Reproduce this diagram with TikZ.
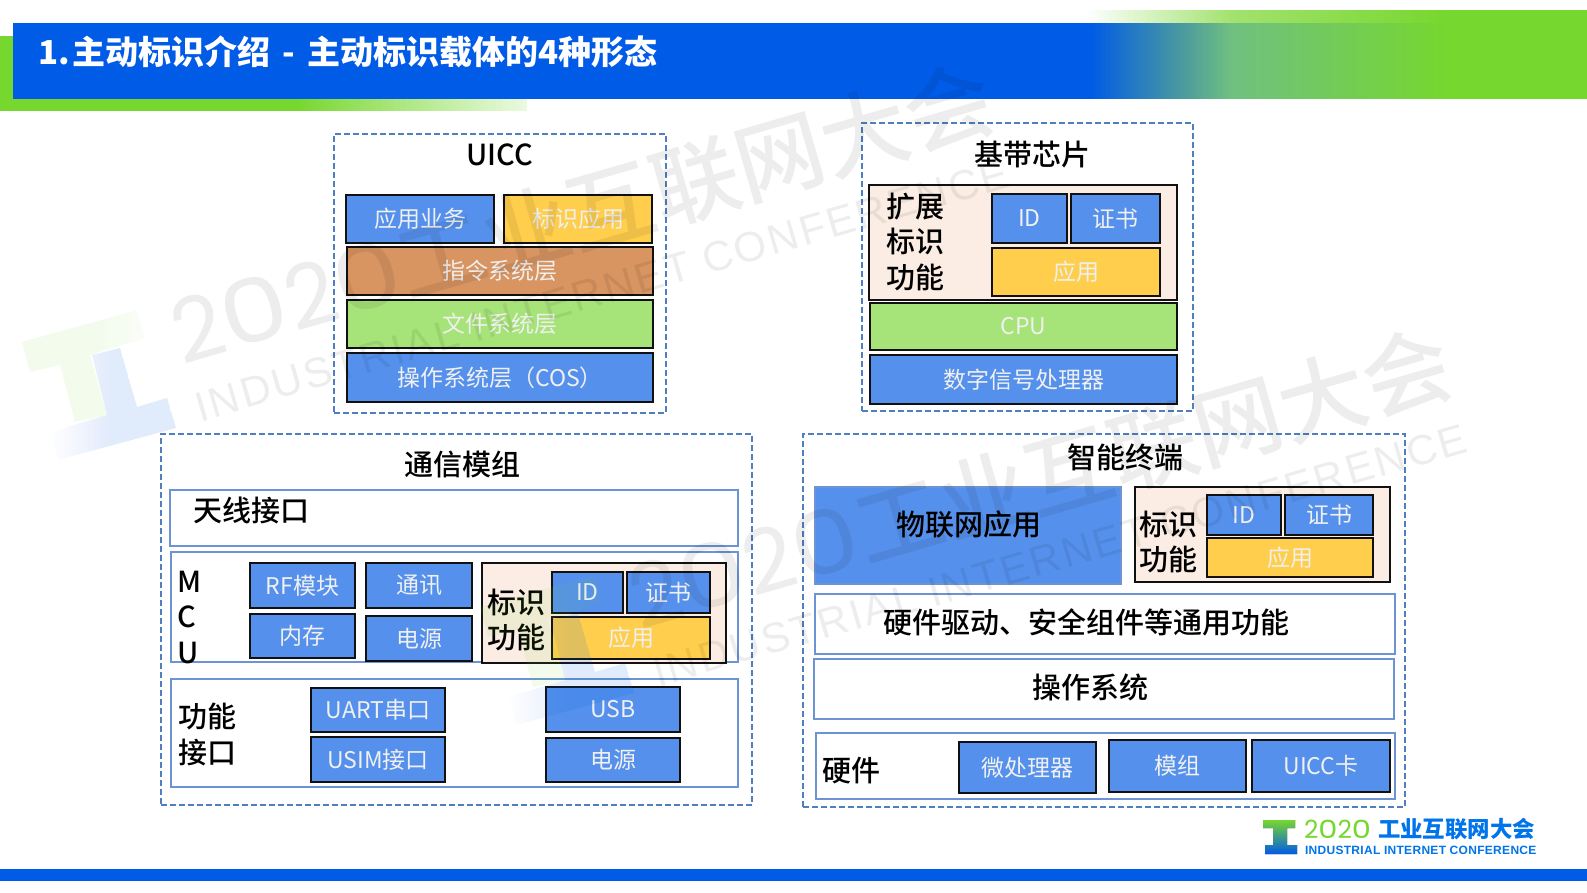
\documentclass[tikz,border=0pt]{standalone}
\usepackage{fontspec}
\setmainfont{Noto Sans CJK SC}
\newfontfamily\medfont{Noto Sans CJK SC Medium}
\newfontfamily\popfont{Poppins}
\newfontfamily\wmlat[LetterSpace=6]{Liberation Sans}
\newfontfamily\logolat[LetterSpace=2.5]{Liberation Sans}
\definecolor{hblue}{HTML}{005BE6}
\definecolor{hgreen}{HTML}{76D72E}
\colorlet{hpale}{hgreen!15}
\definecolor{hband}{HTML}{A2E26E}
\definecolor{hteal}{HTML}{4E9D9C}
\definecolor{hmint}{HTML}{70C080}
\definecolor{bblue}{HTML}{5591EC}
\definecolor{byellow}{HTML}{FFCE4C}
\definecolor{borange}{HTML}{D89461}
\definecolor{bgreen}{HTML}{A6E378}
\definecolor{bpeach}{HTML}{FBEDE3}
\definecolor{dashc}{HTML}{4F7FC0}
\definecolor{linec}{HTML}{6C93D3}
\definecolor{edge}{HTML}{111111}
\newcommand{\fs}[1]{\fontsize{#1}{#1}\selectfont}
\tikzset{
  boxbase/.style={inner sep=0pt,outer sep=0pt,align=center},
  fillbox/.style={boxbase,draw=edge,line width=2.6pt,text=white!94!black,font=\fs{23}},
  bluebox/.style={fillbox,fill=bblue},
  yellowbox/.style={fillbox,fill=byellow},
  orangebox/.style={fillbox,fill=borange},
  greenbox/.style={fillbox,fill=bgreen},
  peachbox/.style={boxbase,draw=edge,line width=2.6pt,fill=bpeach},
  plainblue/.style={boxbase,draw=linec,line width=1.6pt,fill=bblue},
  whitebox/.style={boxbase,draw=linec,line width=2pt,fill=white},
  dashbox/.style={boxbase,draw=dashc,line width=2pt,dash pattern=on 6pt off 3pt},
  lbl/.style={inner sep=0pt,outer sep=0pt,text=black},
  big/.style={lbl,font=\medfont\fontsize{29}{35.5}\selectfont,align=center},
  wmtext/.style={inner sep=0pt,outer sep=0pt,text=black,text opacity=.07},
}
\newcommand{\rbx}[6]{%
  \pgfmathsetmacro\bxCX{(#3+#5)/2}\pgfmathsetmacro\bxCY{(#4+#6)/2}%
  \pgfmathsetmacro\bxW{#5-#3}\pgfmathsetmacro\bxH{#6-#4}%
  \node[#1,minimum width=\bxW pt,minimum height=\bxH pt] (#2) at (\bxCX,\bxCY) {};%
}
\newcommand{\tbx}[7]{%
  \pgfmathsetmacro\bxCX{(#3+#5)/2}\pgfmathsetmacro\bxCY{(#4+#6)/2}%
  \pgfmathsetmacro\bxW{#5-#3}\pgfmathsetmacro\bxH{#6-#4}%
  \node[#1,minimum width=\bxW pt,minimum height=\bxH pt] (#2) at (\bxCX,\bxCY) {#7};%
}
% horizontal gradient as integer-aligned strips
\newcommand{\hgrad}[6]{%
  \pgfmathtruncatemacro\gN{(#2-#1)/3}%
  \foreach \gi in {1,...,\gN}{%
    \pgfmathsetmacro\gP{100*(\gi-.5)/\gN}%
    \pgfmathsetmacro\gX{#1+3*(\gi-1)}%
    \pgfmathsetmacro\gY{\gX+3.5}%
    \fill[#4!\gP!#3] (\gX,#5) rectangle (\gY,#6);%
  }%
}
\newcommand{\roundzero}{\scalebox{1.22}[1]{0}}
\newcommand{\wmark}[3]{%
  \begin{scope}[shift={(#2,#3)}]
    \begin{scope}
      \clip (22,342)--(137,310)--(145,338)--(90,355)--(107,415)--(75,422)--(60,365)--(30,372)--cycle;
      \foreach \sx in {21,24,...,147}{%
        \pgfmathsetmacro\sa{\sx<95 ? 0.085 : 0.085-0.05*(\sx-95)/50}%
        \fill[hgreen,fill opacity=\sa] (\sx,300) rectangle ({\sx+3},430);%
      }
    \end{scope}
    \begin{scope}
      \clip (92,355)--(120,348)--(137,407)--(167,398)--(176,428)--(58,460)--(50,432)--(107,415)--cycle;
      \foreach \sx in {48,51,...,177}{%
        \pgfmathsetmacro\sa{\sx>110 ? 0.12 : max(0,0.12*(\sx-50)/60)}%
        \fill[hblue,fill opacity=\sa] (\sx,340) rectangle ({\sx+3},465);%
      }
    \end{scope}
    \node[wmtext,rotate=16.2,anchor=base west,font=\fs{88}] (#1a) at (182,365) {{\popfont 2\roundzero 2\roundzero}{\medfont 工业互联网大会}};
    \node[wmtext,rotate=16.2,anchor=base west,font=\fs{42}] (#1b) at (200,422) {\wmlat INDUSTRIAL INTERNET CONFERENCE};
  \end{scope}%
}
\begin{document}
\begin{tikzpicture}[x=1pt,y=-1pt]
\useasboundingbox (0,0) rectangle (1587,892);
\fill[white] (0,0) rectangle (1587,892);
% header
\fill[hgreen] (0,36) rectangle (296,111);
\hgrad{295}{527}{hgreen}{hpale}{36}{111}
\hgrad{1086}{1233}{white}{hband}{10}{24}
\hgrad{1232}{1450}{hband}{hgreen}{10}{24}
\fill[hgreen] (1448,10) rectangle (1587,24);
\fill[hblue] (13,23) rectangle (1091,99);
\hgrad{1090}{1188}{hblue}{hteal}{23}{99}
\hgrad{1187}{1233}{hteal}{hmint}{23}{99}
\hgrad{1232}{1450}{hmint}{hgreen}{23}{99}
\fill[hgreen] (1448,23) rectangle (1587,99);
\fill[hblue] (0,869) rectangle (1587,881);
\node[lbl,text=white,anchor=west,font=\fs{33}\bfseries] (title) at (38,52) {1.\hspace{3pt}主动标识介绍\hspace{12pt}-\hspace{12pt}主动标识载体的4种形态};
% UICC
\rbx{dashbox}{uicc}{334}{134}{666}{413}
\node[big] (uiccT) at (500,155) {UICC};
\tbx{bluebox}{ua}{346}{195}{494}{243}{应用业务}
\tbx{yellowbox}{ub}{504}{195}{652}{243}{标识应用}
\tbx{orangebox}{uc}{347}{247}{653}{295}{指令系统层}
\tbx{greenbox}{ud}{347}{300}{653}{348}{文件系统层}
\tbx{bluebox}{ue}{347}{353}{653}{402}{操作系统层（COS）}
% baseband
\rbx{dashbox}{base}{862}{123}{1193}{411}
\node[big] (baseT) at (1032,155) {基带芯片};
\rbx{peachbox}{bext}{869}{185}{1177}{300}
\node[big] (bextT) at (915,242) {扩展\\标识\\功能};
\tbx{bluebox}{bid}{992}{194}{1067}{243}{ID}
\tbx{bluebox}{bcert}{1071}{194}{1160}{243}{证书}
\tbx{yellowbox}{bapp}{992}{248}{1160}{296}{应用}
\tbx{greenbox}{bcpu}{870}{303}{1177}{350}{CPU}
\tbx{bluebox}{bdsp}{870}{355}{1177}{404}{数字信号处理器}
% comm module
\rbx{dashbox}{comm}{161}{434}{752}{805}
\node[big] (commT) at (462,464) {通信模组};
\rbx{whitebox}{cant}{170}{490}{738}{546}
\node[big] (cantT) at (251,510) {天线接口};
\rbx{whitebox}{cmcu}{171}{552}{738}{662}
\node[big,align=left,anchor=west] (cmcuT) at (177,617.5) {M\\C\\U};
\tbx{bluebox}{crf}{250}{563}{355}{608}{RF模块}
\tbx{bluebox}{ccom}{366}{563}{472}{608}{通讯}
\tbx{bluebox}{cmem}{250}{614}{355}{658}{内存}
\tbx{bluebox}{cpow}{366}{616}{472}{661}{电源}
\rbx{peachbox}{cid}{482}{563}{726}{663}
\node[big] (cidT) at (516,620) {标识\\功能};
\tbx{bluebox}{cidA}{552}{572}{623}{613}{ID}
\tbx{bluebox}{ccert}{627}{572}{710}{613}{证书}
\tbx{yellowbox}{capp}{552}{617}{710}{659}{应用}
\rbx{whitebox}{cfun}{171}{679}{738}{787}
\node[big] (cfunT) at (207,734.5) {功能\\接口};
\tbx{bluebox}{cuart}{311}{688}{445}{732}{UART串口}
\tbx{bluebox}{cusim}{311}{737}{445}{782}{USIM接口}
\tbx{bluebox}{cusb}{546}{687}{680}{732}{USB}
\tbx{bluebox}{cpow2}{546}{738}{680}{782}{电源}
% terminal
\rbx{dashbox}{term}{803}{434}{1405}{807}
\node[big] (termT) at (1125,457) {智能终端};
\rbx{plainblue}{tiot}{815}{487}{1121}{584}
\node[big] (tiotT) at (969,524) {物联网应用};
\rbx{peachbox}{tidb}{1135}{487}{1390}{582}
\node[big] (tidT) at (1168,542) {标识\\功能};
\tbx{bluebox}{tid}{1207}{495}{1281}{535}{ID}
\tbx{bluebox}{tcert}{1285}{495}{1373}{535}{证书}
\tbx{yellowbox}{tapp}{1207}{538}{1373}{577}{应用}
\rbx{whitebox}{tdrv}{815}{594}{1395}{654}
\node[big] (tdrvT) at (1086,622) {硬件驱动、安全组件等通用功能};
\rbx{whitebox}{tos}{814}{659}{1394}{719}
\node[big] (tosT) at (1090,687) {操作系统};
\rbx{whitebox}{thw}{816}{733}{1395}{799}
\node[big] (thwT) at (851,771) {硬件};
\tbx{bluebox}{tcpu}{959}{742}{1096}{793}{微处理器}
\tbx{bluebox}{tmod}{1109}{740}{1246}{792}{模组}
\tbx{bluebox}{tuicc}{1252}{740}{1390}{792}{UICC卡}
% watermarks
\wmark{wa}{0}{0}
\wmark{wb}{458}{265}
% logo
\fill[top color=hgreen,bottom color=hblue]
  (1263,820)--(1295,820)--(1295,828)--(1287,828)--(1287,845)--(1297,845)--(1297,854)--(1265,854)--(1265,845)--(1273,845)--(1273,828)--(1263,828)--cycle;
\node[lbl,text=hgreen,anchor=west,font=\fs{25}\popfont] (logoA) at (1304,829) {2\roundzero 2\roundzero};
\node[lbl,text=hblue!85!cyan,anchor=west,font=\fs{22.4}\bfseries] (logoB) at (1378,829) {工业互联网大会};
\node[lbl,text=hblue!85!cyan,anchor=west,font=\fs{12}\logolat\bfseries] (logoC) at (1305,850) {INDUSTRIAL INTERNET CONFERENCE};
\end{tikzpicture}
\end{document}
